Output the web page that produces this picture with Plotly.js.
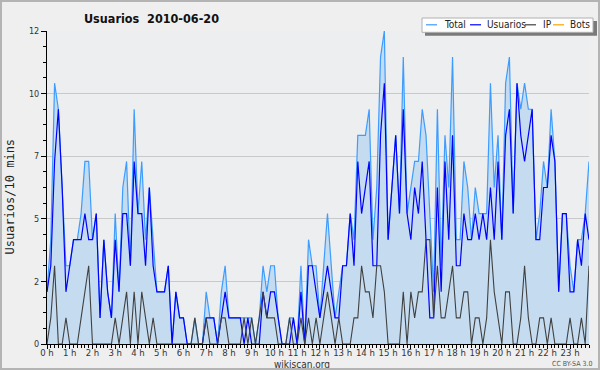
<!DOCTYPE html>
<html>
<head>
<meta charset="utf-8">
<script src="https://cdn.plot.ly/plotly-3.0.1.min.js"></script>
<style>
html,body{margin:0;padding:0;background:#efefef;}
#wrap{position:relative;width:600px;height:370px;}
#chart{width:600px;height:370px;}
#frame{position:absolute;left:0;top:0;width:600px;height:370px;box-sizing:border-box;border:2px solid #b4b4b4;pointer-events:none;}
</style>
</head>
<body>
<div id="wrap"><div id="chart"></div><div id="frame"></div></div>
<script>
// 10-minute slots, 2010-06-20
const total = [
2,4,10,9,6,3,3,4,4,5,
7,7,4,5,1,4,2,1,5,2,
6,7,3,9,5,7,4,6,4,2,
2,2,3,0,2,1,1,0,0,1,
0,0,2,1,1,0,2,3,1,1,
1,1,1,1,1,0,1,3,2,3,
3,1,0,0,1,1,0,3,0,4,
3,3,1,3,5,3,1,2,3,3,
5,4,8,8,8,9,4,6,11,12,
4,6,8,5,11,5,6,7,7,9,
8,5,2,9,3,8,6,11,4,4,
7,6,4,6,5,5,5,10,6,8,
4,10,11,5,10,9,10,9,9,4,
5,7,6,9,7,2,5,5,3,2,
4,4,5,7
];
const usuarios = [
2,3,7,9,6,2,3,4,4,4,
5,4,4,5,1,4,2,1,4,2,
5,5,3,7,5,5,3,6,3,2,
2,2,3,0,2,1,1,0,0,0,
0,0,1,1,1,0,1,2,1,1,
1,1,0,1,0,0,0,2,1,2,
2,1,0,0,0,1,0,2,0,3,
3,2,1,2,3,2,1,1,3,3,
5,3,7,5,6,7,3,3,8,10,
4,6,8,5,9,5,4,6,5,7,
4,1,1,6,2,7,4,8,3,3,
5,4,4,5,4,5,4,6,4,7,
4,8,9,5,10,8,7,8,9,4,
4,6,6,8,7,2,5,5,2,2,
4,3,5,4
];
const ip = [
0,1,3,0,0,1,0,0,0,1,
2,3,0,0,0,0,0,0,1,0,
1,2,0,2,0,2,1,0,1,0,
0,0,0,0,0,0,0,0,0,1,
0,0,1,0,0,0,1,1,0,0,
0,0,1,0,1,0,1,2,1,1,
1,0,0,0,1,0,0,1,0,1,
0,1,0,1,2,1,0,1,0,0,
0,1,1,3,2,2,1,3,3,2,
0,0,0,0,2,0,2,1,2,2,
4,4,1,3,1,1,2,3,1,1,
2,2,0,1,1,0,1,4,2,1,
0,2,2,0,0,1,3,1,0,0,
1,1,0,1,0,0,0,0,1,0,
0,1,0,3
];
const bots = new Array(total.length).fill(0);

const hourTicks = [0,1,2,3,4,5,6,7,8,9,10,11,12,13,14,15,16,17,18,19,20,21,22,23];
const hourLabels = hourTicks.map(h => h + " h");
const yTickVals = [0,2.4,4.8,7.2,9.6,12];
const yTickText = ["0","2","5","7","10","12"];

const colors = {Total:"#3d9cff", Usuarios:"#0000ff", IP:"#404040", Bots:"#ffa500"};
const fillColor = "#c5dcf0";

const x = total.map((_, i) => i / 6);

const W = 600, H = 370, ML = 47, MR = 11, MT = 31, MB = 26;
const PW = W - ML - MR, PH = H - MT - MB;
const px = v => (v - ML) / PW;
const py = v => (H - MB - v) / PH;

const fontC = "DejaVu Sans Condensed, DejaVu Sans, sans-serif";

const traces = [
  {x:x, y:bots, name:"Bots", type:"scatter", mode:"lines", line:{color:colors.Bots, width:1}},
  {x:x, y:total, name:"Total", type:"scatter", mode:"lines", fill:"tozeroy", fillcolor:fillColor, line:{color:colors.Total, width:1.2}},
  {x:x, y:usuarios, name:"Usuarios", type:"scatter", mode:"lines", line:{color:colors.Usuarios, width:1.2}},
  {x:x, y:ip, name:"IP", type:"scatter", mode:"lines", line:{color:colors.IP, width:1.1}}
];

// custom legend
const legItems = [
  {name:"Total", lx0:426, lx1:437, tx:441.5},
  {name:"Usuarios", lx0:470, lx1:481, tx:484.5},
  {name:"IP", lx0:525, lx1:536, tx:541},
  {name:"Bots", lx0:553, lx1:564, tx:568}
];
const shapes = [
  {type:"rect", xref:"paper", yref:"paper", x0:px(425), x1:px(597), y0:py(21), y1:py(35.7), fillcolor:"#7a7a7a", line:{width:0}, layer:"above"},
  {type:"rect", xref:"paper", yref:"paper", x0:px(422), x1:px(593), y0:py(18), y1:py(32.3), fillcolor:"#ffffff", line:{color:"#b0b0b0", width:1}, layer:"above"}
];
const annotations = [];
legItems.forEach(it => {
  shapes.push({type:"line", xref:"paper", yref:"paper", x0:px(it.lx0), x1:px(it.lx1), y0:py(24.8), y1:py(24.8), line:{color:colors[it.name], width:1.2}, layer:"above"});
  annotations.push({xref:"paper", yref:"paper", x:px(it.tx), y:py(25), xanchor:"left", yanchor:"middle", text:it.name, showarrow:false, font:{family:fontC, size:10, color:"#222"}});
});
annotations.push({xref:"paper", yref:"paper", x:px(9.5), y:py(197), text:"Usuarios/10 mins", textangle:-90, showarrow:false, xanchor:"center", yanchor:"middle", font:{family:"DejaVu Sans Mono, monospace", size:12, color:"#222"}});
annotations.push({xref:"paper", yref:"paper", x:px(301.5), y:py(364.5), text:"wikiscan.org", showarrow:false, xanchor:"center", yanchor:"middle", font:{family:fontC, size:10, color:"#333"}});
annotations.push({xref:"paper", yref:"paper", x:px(572), y:py(364), text:"CC BY-SA 3.0", showarrow:false, xanchor:"center", yanchor:"middle", font:{family:fontC, size:7, color:"#555"}});

const layout = {
  width:W, height:H,
  margin:{l:ML, r:MR, t:MT, b:MB, pad:0},
  paper_bgcolor:"#efefef",
  plot_bgcolor:"#eceef0",
  showlegend:false,
  title:{text:"Usuarios  2010-06-20", x:151.5/W, xref:"container", xanchor:"center", y:1-18.5/H, yref:"container", yanchor:"middle",
         font:{family:fontC, size:12.5, weight:"bold", color:"#111"}},
  xaxis:{range:[0, (total.length-1)/6], tickmode:"array", tickvals:hourTicks, ticktext:hourLabels,
         showline:true, linecolor:"#000", linewidth:1, ticks:"outside", ticklen:4, tickcolor:"#000",
         ticklabelstandoff:-4,
         showgrid:false, zeroline:false, tickfont:{family:fontC, size:9.5, color:"#333"},
         minor:{tickmode:"linear", tick0:0, dtick:1/6, ticks:"outside", ticklen:3, tickcolor:"#000", showgrid:false}},
  yaxis:{range:[0,12], tickmode:"array", tickvals:yTickVals, ticktext:yTickText,
         showline:true, linecolor:"#000", linewidth:1, ticks:"outside", ticklen:5, tickcolor:"#000",
         showgrid:true, gridcolor:"#c9c9c9", gridwidth:1, zeroline:false,
         tickfont:{family:fontC, size:9, color:"#333"},
         minor:{tickmode:"linear", tick0:0, dtick:0.6, ticks:"outside", ticklen:3, tickcolor:"#000", showgrid:false}},
  shapes:shapes,
  annotations:annotations
};

Plotly.newPlot("chart", traces, layout, {staticPlot:true, displayModeBar:false});
</script>
</body>
</html>
